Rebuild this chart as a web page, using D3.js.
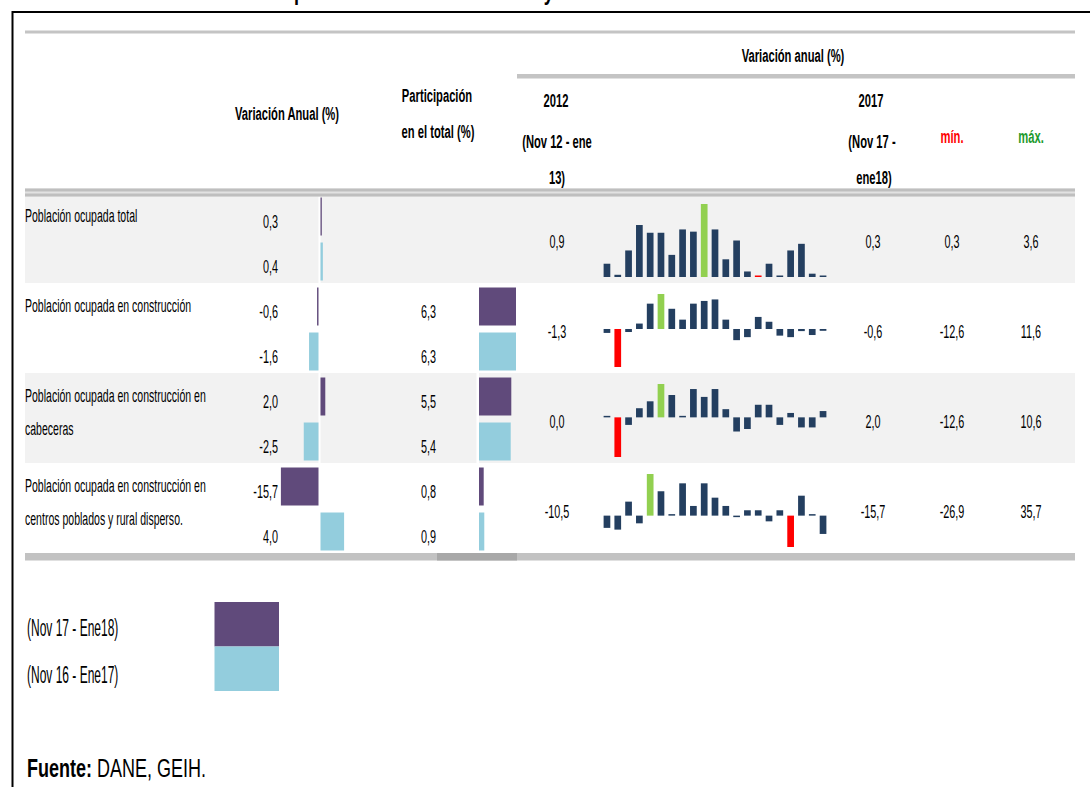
<!DOCTYPE html>
<html>
<head>
<meta charset="utf-8">
<script src="https://cdn.jsdelivr.net/npm/d3@7"></script>
<style>
  body { margin: 0; background: #fff; }
  text { font-family: "Liberation Sans", Arial, sans-serif; }
</style>
</head>
<body>
<script>
// rows of the table
const rowLabels = [
  ["Población ocupada total"],
  ["Población ocupada en construcción"],
  ["Población ocupada en construcción en", "cabeceras"],
  ["Población ocupada en construcción en", "centros poblados y rural disperso."]
]
const varCur = [0.3, -0.6, 2.0, -15.7]    // Nov 17 - Ene 18
const varPrev = [0.4, -1.6, -2.5, 4.0]    // Nov 16 - Ene 17
const partCur = [null, 6.3, 5.5, 0.8]
const partPrev = [null, 6.3, 5.4, 0.9]

// sparklines, Nov 12 - ene 13 ... Nov 17 - ene 18
const sparkTotal = [0.9, 0.4, 1.5, 2.65, 2.3, 2.3, 1.3, 2.45, 2.35, 3.6, 2.45, 1.1, 1.95, 0.55, 0.3, 0.9, 0.35, 1.5, 1.8, 0.45, 0.3]
const sparkConstr = [-1.3, -12.6, -1.0, 1.8, 8.4, 11.6, 6.7, 3.1, 8.4, 9.3, 9.8, 3.1, -3.7, -2.7, 4.0, 2.4, -2.2, -2.7, -0.7, -2.0, -0.6]
const sparkCabec = [0.0, -12.6, -2.4, 2.9, 5.1, 10.6, 7.1, 0.4, 9.0, 6.5, 9.0, 2.6, -4.5, -3.7, 4.0, 4.0, -2.4, 1.4, -3.2, -3.2, 2.0]
const sparkRural = [-10.5, -12.0, 12.0, -6.6, 35.7, 20.9, 1.0, 27.7, 8.3, 27.7, 15.4, 8.3, -1.0, 4.6, 4.6, -4.9, 4.6, -26.9, 17.1, 1.0, -15.7]
const sparks = [sparkTotal, sparkConstr, sparkCabec, sparkRural]

const legendLabels = ["(Nov 17 - Ene18)", "(Nov 16 - Ene17)"]

const purple = "#604A7B", aqua = "#93CDDD", navy = "#243F60"
const fmt = d3.formatLocale({decimal: ",", thousands: ".", grouping: [3], currency: ["$", ""], minus: "-"}).format(".1f")

const svg = d3.select("body").append("svg")
    .attr("width", 1090)
    .attr("height", 787)

function txt(x, y, s, o = {}) {
  return svg.append("text")
    .attr("transform", `translate(${x},${y}) scale(${o.sx || 0.6},1)`)
    .attr("text-anchor", o.anchor || "start")
    .attr("dominant-baseline", o.base || "central")
    .attr("font-size", o.size || 18)
    .attr("font-weight", o.bold ? "bold" : "normal")
    .attr("fill", o.fill || "#000")
    .text(s)
}

// title (cut off at the top of the picture)
txt(136, 0, "Indicadores de empleo del sector construcción y zonas", {size: 25, sx: 0.72, bold: true, base: "alphabetic"})

// frame
svg.append("line").attr("x1", 12).attr("x2", 1090).attr("y1", 12).attr("y2", 12).attr("stroke", "#000").attr("stroke-width", 2)
svg.append("line").attr("x1", 12.5).attr("x2", 12.5).attr("y1", 11).attr("y2", 787).attr("stroke", "#000").attr("stroke-width", 2)

// row bands
const rowTop = rowLabels.map((d, i) => 193 + 90 * i)
rowTop.forEach((top, i) => {
  svg.append("rect").attr("x", 25).attr("y", top).attr("width", 1050).attr("height", 90)
    .attr("fill", i % 2 == 0 ? "#F2F2F2" : "#fff")
  if (i % 2 == 0) {
    svg.append("rect").attr("x", 318.5).attr("y", top).attr("width", 2).attr("height", 90).attr("fill", "#fff")
    if (partCur[i] != null)
      svg.append("rect").attr("x", 476.5).attr("y", top).attr("width", 2.5).attr("height", 90).attr("fill", "#fff")
  }
})

// rules
svg.append("rect").attr("x", 25).attr("y", 30.5).attr("width", 1050).attr("height", 3).attr("fill", "#C4C4C4")
svg.append("rect").attr("x", 517).attr("y", 74).attr("width", 558).attr("height", 4.5).attr("fill", "#C4C4C4")
svg.append("rect").attr("x", 25).attr("y", 188.5).attr("width", 1050).attr("height", 8).attr("fill", "#E2E2E2")
svg.append("rect").attr("x", 25).attr("y", 188.5).attr("width", 1050).attr("height", 3).attr("fill", "#BFBFBF")
svg.append("rect").attr("x", 25).attr("y", 193.5).attr("width", 1050).attr("height", 3).attr("fill", "#BFBFBF")
svg.append("rect").attr("x", 25).attr("y", 553).attr("width", 1050).attr("height", 7.5).attr("fill", "#C2C2C2")
svg.append("rect").attr("x", 437).attr("y", 553).attr("width", 80).attr("height", 7.5).attr("fill", "#A8A8A8")

// headers
const hd = {size: 19, sx: 0.59, bold: true, anchor: "middle"}
txt(793, 55, "Variación anual (%)", hd)
txt(287, 113, "Variación Anual (%)", hd)
txt(437, 95, "Participación", hd)
txt(438, 131, "en el total (%)", hd)
txt(556, 100, "2012", hd)
txt(557, 141, "(Nov 12 - ene", hd)
txt(557, 177, "13)", hd)
txt(871, 100, "2017", hd)
txt(872, 141, "(Nov 17 -", hd)
txt(874, 177, "ene18)", hd)
txt(952, 136, "mín.", {...hd, fill: "#FF0000"})
txt(1031, 136, "máx.", {...hd, fill: "#1E9A2E"})

// scales for the data bars
const curScale = d3.scaleLinear().domain([0, d3.max(varCur, Math.abs)]).range([0, 37.6])
const prevScale = d3.scaleLinear().domain([0, d3.max(varPrev, Math.abs)]).range([0, 23.6])
const partScale = d3.scaleLinear().domain([0, d3.max(partCur)]).range([0, 37])

function dataBar(v, scale, y, color) {
  const w = Math.max(1.3, scale(Math.abs(v)))
  svg.append("rect")
    .attr("x", v >= 0 ? 320.5 : 318.5 - w)
    .attr("y", y).attr("width", w).attr("height", 38)
    .attr("fill", color)
}

const x = d3.scaleBand().domain(d3.range(21)).range([599.5, 830.5]).padding(0.38)
const num = {size: 19, sx: 0.57}

rowTop.forEach((top, i) => {
  rowLabels[i].forEach((l, j) => txt(25, top + 23 + j * 33, l, {size: 18, sx: 0.585}))

  // variación anual
  txt(278, top + 28, fmt(varCur[i]), {...num, anchor: "end"})
  txt(278, top + 73.5, fmt(varPrev[i]), {...num, anchor: "end"})
  dataBar(varCur[i], curScale, top + 4.5, purple)
  dataBar(varPrev[i], prevScale, top + 49.5, aqua)

  // participación
  if (partCur[i] != null) {
    txt(436, top + 28, fmt(partCur[i]), {...num, anchor: "end"})
    txt(436, top + 73.5, fmt(partPrev[i]), {...num, anchor: "end"})
    svg.append("rect").attr("x", 479).attr("y", top + 4.5).attr("width", partScale(partCur[i])).attr("height", 38).attr("fill", purple)
    svg.append("rect").attr("x", 479).attr("y", top + 49.5).attr("width", partScale(partPrev[i])).attr("height", 38).attr("fill", aqua)
  }

  // sparkline
  const s = sparks[i]
  const ext = d3.extent(s)
  const y = d3.scaleLinear().domain(ext).range([top + 84, top + 11])
  const base = y(Math.min(Math.max(0, ext[0]), ext[1]))
  const hi = d3.maxIndex(s), lo = d3.minIndex(s)
  svg.append("g").selectAll("rect")
    .data(s)
    .join("rect")
      .attr("x", (d, k) => x(k))
      .attr("width", x.bandwidth())
      .attr("y", d => d < 0 ? base : base - Math.max(1.5, base - y(d)))
      .attr("height", d => Math.max(1.5, Math.abs(y(d) - base)))
      .attr("fill", (d, k) => k == hi ? "#92D050" : k == lo ? "#FF0000" : navy)

  const mid = top + 48
  txt(557, mid, fmt(s[0]), {...num, anchor: "middle"})
  txt(873, mid, fmt(s[s.length - 1]), {...num, anchor: "middle"})
  txt(952, mid, fmt(ext[0]), {...num, anchor: "middle"})
  txt(1031, mid, fmt(ext[1]), {...num, anchor: "middle"})
})

// legend
legendLabels.forEach((l, i) => {
  txt(27, 628 + i * 47, l, {size: 24, sx: 0.5})
  svg.append("rect").attr("x", 214.5).attr("y", 602 + i * 44.5).attr("width", 64.5).attr("height", 44.5)
    .attr("fill", i == 0 ? purple : aqua)
})

// source
const src = txt(27, 777, "", {size: 25, sx: 0.72, base: "alphabetic"})
src.append("tspan").attr("font-weight", "bold").text("Fuente:")
src.append("tspan").text(" DANE, GEIH.")
</script>
</body>
</html>
